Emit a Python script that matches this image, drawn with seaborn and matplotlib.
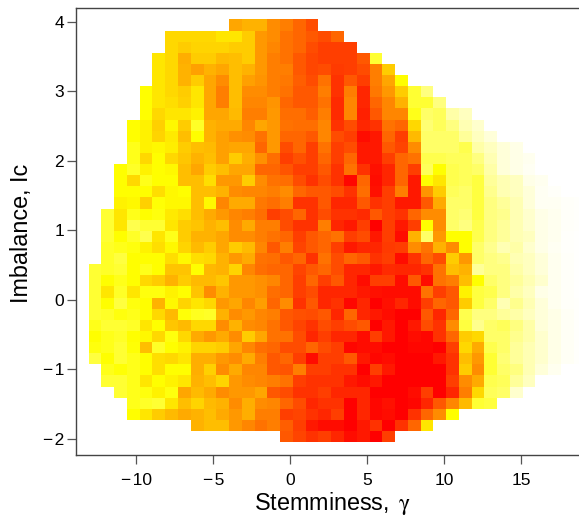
import numpy as np
import pandas as pd
import matplotlib
matplotlib.use("Agg")
import matplotlib.pyplot as plt
from matplotlib.colors import LinearSegmentedColormap
import seaborn as sns

# Heat values: 0 white, 10 yellow, 20 red
n = np.nan
cells = [
    [n]*11 + [13.5,13,13,14.5,15,16,17],
    [n]*6 + [11.5,11.5,11.5,11.5,11,11,12,14,14.5,15.5,16,16.5,17,16],
    [n]*6 + [11.5,12,11.7,11.7,11.7,12,12,14,14.7,15.5,16,17,17.5,17.5,17.5],
    [n]*5 + [11,11.5,13.2,12,12,12.7,12.5,12,14,15,15.5,16.5,17.2,17.5,17.5,17.5,16.5,8],
    [n]*5 + [11,11.5,13,13.7,13,13.5,12.5,13,14,15,15,16.5,17.2,17,17.7,17.5,17,15,12],
    [n]*5 + [11,11.5,13,12,13.5,14.5,12.5,13.7,14.2,15,15.3,16.3,17,15.5,18,16.5,17.5,15,13.5,10],
    [n]*4 + [10,11,11.5,12,11,13.5,15,12.5,14.5,14.5,15,15.5,16.5,16.5,15,18,15,18.5,15.3,14,12,8,5],
    [n]*4 + [10,11,11.3,11.8,11,13.5,15,12.5,14.7,14.7,14.2,16,16.5,16.5,15.5,18.3,14.7,18.5,16,14.7,13,8,8,5],
    [n]*4 + [10,11.5,11,11,10.5,13.5,13.5,12.7,15,15,14,15.7,15.7,16.3,15,18.3,14.7,18.7,16.5,14.7,14.7,9,6,6.5,3.5,2.5],
    [n]*3 + [10,10.5,11.8,10.3,12,8.5,13,13.3,13.3,14.7,13.5,14,15.5,15.7,15.7,14.7,18,17,18.5,18,15.5,16,11.5,5.5,6.5,5,3,2],
    [n]*3 + [10,10.5,11.7,10.8,12.5,10,13,13.7,14.3,14.5,15.5,14,16,16,16.5,14.7,17,17.5,19.5,19,16,17.5,12.7,6,6,6,4,2.5,1.5],
    [n]*3 + [9,10.5,10.3,10.7,12,12.5,12.7,13.7,13.5,13.5,16,14,17,16,17.5,15.5,17.5,17,19,19,16.5,17.3,14.5,6,6,6,7,3.5,2.5,1.5,1],
    [n]*3 + [9,11.5,10,11.5,12.2,13,12.5,13.7,12,13.2,14.3,15.7,17.5,16.8,17.5,16,17.5,16,19,19,17.5,16,15.5,7,7,6.5,6.5,5,3,1.5,1,0.7],
    [n]*2 + [10,8.5,10.5,10,10.3,12.5,13.5,12,12.5,13.5,13.5,16,16,16.7,17.5,17.5,16.5,18,15.5,18,19.3,18.5,16,17.5,6.5,10,7,6.5,6,3.5,1.5,1,0.5],
    [n]*2 + [10,11.5,9,10,10,12.5,12.5,11.3,14,14,12,14.5,15.5,15.7,17,18,17,18,19.7,16,19.5,18.5,16,19,10,11,7,6.5,7.5,4,3,2.5,1,0.7],
    [n]*2 + [10,10,10,11.3,10.3,10,12.5,12.5,13,14.5,14.7,14.7,15,14.5,16,16.5,16.5,17,18,15.7,19.3,17.5,15,19,14.2,12,6.5,6,7.5,4.5,3,2.5,1.5,0.5,0.3],
    [n]*2 + [10.5,10.3,11.8,9.8,10.3,10.3,12.5,10.3,14.7,13.3,13.3,15.3,15.7,15,18,18,16.5,18.5,18.5,16.5,18,17.5,19,19,16.5,13.3,6,6,7.5,5,4,3,1.5,0.5,0.5,0.3,0.2],
    [n] + [8,11,9,10,9.5,10.8,11.3,12.5,13.3,14,14.7,15,15.7,17.5,17,16,18,17,18,18,18.3,16.5,17.5,18,16,14.5,14.5,6,5.5,7.5,5,4.5,3,2,1,0.7,0.3,0.2],
    [n] + [8,11,7,8,8,11,12,12.3,13,12.5,14.5,13.3,15,15,17,18,18,15,18.5,19,17.5,20,17.5,19,17.5,10,14.5,6,5,7,5,4,3,2,1,0.7,0.3,0.2],
    [n] + [8,10,8.5,7,11,9,12,13,13,13.5,14.5,14.5,15,15.5,16,17.5,16.5,16,15.5,17.5,17,19,17.5,19.5,13,6,14,10,10,7,5,4,3,2.5,1,0.7,0.2,0.1],
    [n] + [8.5,9,9.5,10.5,11.3,10.3,11.7,12.7,12,13.5,12,12.7,14.7,16.5,15,17.3,16.5,16,17.5,19,18.5,18.5,17.7,17.5,14.5,15.5,13,14.5,10,6,4.5,3,3.5,2,1,0.5,0.2,0.1],
    [n] + [8.5,7.5,10,10,10,11.3,10.3,11.3,11.5,13,14,13.3,15.5,15.7,16.5,16,18,15.5,17,16,16.5,18,17.5,19.5,18,16,17,12,14,6,5,4.5,3,2.5,1.5,0.7,0.3,0.1],
    [8,8.5,8,10,9,10,12.3,12.3,10,12.8,13,11.7,14.7,15.7,16,16,17.3,16.5,16,17,18.5,18.5,19,18.3,18.5,18.5,18,15.5,12.5,13,4,5,5,3.5,2.5,1.5,0.7,0.3,0.1],
    [8,10,9,10,11.5,12,13,12,12.7,12.7,12.2,14,14,14.3,14.7,16,17.5,16,17.5,16.5,18.5,19.5,17.5,17.5,19.5,16.5,19.5,15.5,15,12.5,10,6,5,4,3,2,0.7,0.3,0.1],
    [8,11,8.5,11,9.5,9.5,10.5,10,12.3,14.5,13,14,14,14.3,15.7,16,17.5,17,18.5,18.5,18.5,19,19.3,19.5,19.5,19.5,15.5,17.5,16.5,10.5,7.5,7,5,3.5,2.5,1,0.7,0.3,0.1],
    [8,10,7.5,9.5,10,13,10.3,11.7,11,11.5,14,13.5,14.7,13.8,16,14.5,18,16.5,18.5,18,19.7,18.5,20,19.3,18.5,19.5,17.5,16,16.5,12,7.5,6,3,4.5,3,1.5,0.7,0.3,0.2],
    [8,8.5,9.5,9,10,11.5,12.7,9.7,8.8,8.5,13,14.5,14,14.7,15,16.5,16.8,17,16.5,18.5,16,18.5,19,19.5,20,20,16.5,18.5,16,7,5,5,4,3.5,2.5,1.5,1,0.4,0.2],
    [9,8,8,8.5,11,10,12.2,12.7,11.5,11.5,14.5,13,14.5,14.7,15.5,16.5,17.3,18,17,17.5,17,16.5,20,19,20,19,17,18,14.5,7.5,4.5,6,6.5,5,3.5,1.5,1,0.4,0.2],
    [10,9,8.5,10,10.3,11.5,9.5,11.5,13.3,14,13.3,14.5,12,13.5,15.5,15.5,17,18.5,17.5,18.5,18.5,19.5,17.5,19,20,19.5,19.7,18,16,12,11.5,6,6,4.5,3.5,2,1,0.4,0.2],
    [9.5,9,8,9.8,12.5,8.5,10,10.5,11.7,11.7,12,13.5,14.7,15.7,16,17,17,16,17,17.5,19.7,19.5,19.5,20,20,19.7,19.7,20,17.5,11.5,13.3,7,6,4,3,2,1,0.4,0.2],
    [7.5,10,8,9,10,11.3,11.5,11,13.2,13.2,14,14.5,13.3,15,16.5,16,17.5,19.5,17.5,17.5,16.5,19,19.7,19.5,20,20,20,19,18,12.5,14,8,5.5,4,3,2,1,0.4,0.2],
    [n] + [9,9.8,9,10,11.3,10,10,13.2,11.8,14.5,13.3,14.7,14.7,16.5,16.7,15,17.5,17.5,18,18,20,17.5,19,20,20,20,20,18,12,14.5,8,6,5,3,1.5,0.7],
    [n] + [8,8,9,11,10,10.5,11,13,12.5,11.7,14,14.5,14.7,15,15.5,17.5,18,18,18,19,19.5,19,20,20,20,20,20,17.5,14.5,13.3,7,6.5,4,2.5],
    [n]*2 + [8,9,9.5,10.5,9.5,13.5,12.7,13.3,14.5,14,14,13.5,16.5,17,18,18,17.5,18.5,18.5,18.5,20,20,20,19.5,17.5,20,18.5,15,11.5,6.5,6,2],
    [n]*3 + [9,8.5,8,11,12.5,11.7,12.7,13,14.5,13.2,14.5,14.7,16,17,18.5,18,18,20,18.5,19.7,19.3,20,19.7,18.5,16.5,14.7,12.7,8,7.5],
    [n]*3 + [10,11,12,12.7,13.3,13,12.5,13.3,14,13.2,15,15,17.5,17.3,18,18.5,17.5,20,18.5,19.7,19.5,20,18,16,14.5,10],
    [n]*8 + [13,12.5,12.5,14,14.7,15.5,15,16.3,17.5,19,19.5,19.5,20,19,18,20,18,16,11],
    [n]*15 + [16.5,17.3,18,17.5,18.5,19.5,19,20,17.5],
]

x_ticks = [-10, -5, 0, 5, 10, 15]
y_ticks = [-2, -1, 0, 1, 2, 3, 4]
x_tick_labels = ["\u2212\u200a10", "\u2212\u200a5", "0", "5", "10", "15"]
y_tick_labels = ["\u2212\u200a2", "\u2212\u200a1", "0", "1", "2", "3", "4"]

# Grid of the heatmap in data units
x_start, x_step = -13.09, 0.829
y_top, y_step = 4.03, 0.16
x_limits = (-13.93, 18.75)
y_limits = (-2.23, 4.19)

plt.rcParams["font.family"] = ["Liberation Sans", "DejaVu Sans"]
plt.rcParams["mathtext.fontset"] = "stix"

heat = LinearSegmentedColormap.from_list("heat", ["#ffffff", "#ffff00", "#ff0000"])
df = pd.DataFrame(cells, dtype=float)


def to_col(x):
    return (np.asarray(x, dtype=float) - x_start) / x_step


def to_row(y):
    return (y_top - np.asarray(y, dtype=float)) / y_step


fig = plt.figure(figsize=(5.79, 5.18), dpi=100)
ax = fig.add_axes([75.7 / 579, 63.3 / 518, 503.3 / 579, 446.4 / 518])
sns.heatmap(df, ax=ax, cmap=heat, vmin=0, vmax=20, cbar=False, square=False,
            xticklabels=False, yticklabels=False, linewidths=0)

ax.set_xlim(to_col(x_limits))
ax.set_ylim(to_row(y_limits))
ax.set_xticks(to_col(x_ticks))
ax.set_xticklabels(x_tick_labels, fontsize=12.5)
ax.set_yticks(to_row(y_ticks))
ax.set_yticklabels(y_tick_labels, fontsize=12.5, rotation=0)
ax.tick_params(axis="x", length=6.3, width=0.9, color="#555555", pad=7)
ax.tick_params(axis="y", length=6.3, width=0.9, color="#555555", pad=2)

for side in ["left", "bottom", "top"]:
    ax.spines[side].set_visible(True)
    ax.spines[side].set_color("#444444")
    ax.spines[side].set_linewidth(1)
ax.spines["right"].set_visible(False)

ax.set_xlabel("Stemminess, $\\,\\mathrm{\\gamma}$", fontsize=16.8, labelpad=1.5, x=0.511)
ax.set_ylabel("Imbalance, Ic", fontsize=16.8, labelpad=7, y=0.4966)

fig.savefig("out.png", dpi=100)
